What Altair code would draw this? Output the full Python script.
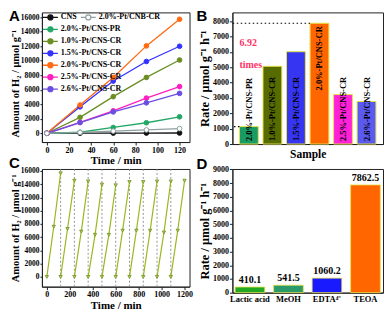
import altair as alt
import pandas as pd

SERIF = "Liberation Serif"
SANS = "Liberation Sans"

# ---------------- Panel A data ----------------
time_a = [0, 30, 60, 90, 120]
series_a = ["CNS", "2.0%-Pt/CNS-PR", "1.0%-Pt/CNS-CR", "1.5%-Pt/CNS-CR",
            "2.0%-Pt/CNS-CR", "2.5%-Pt/CNS-CR", "2.6%-Pt/CNS-CR"]
amount_cns = [0, 15, 25, 30, 35]
amount_pr = [0, 140, 800, 1450, 2270]
amount_10 = [0, 2200, 5050, 7700, 10100]
amount_15 = [0, 3650, 7200, 9900, 12000]
amount_20 = [0, 3900, 7700, 12050, 15725]
amount_25 = [0, 1500, 3100, 4850, 6440]
amount_26 = [0, 1480, 2950, 4200, 5500]
series_cnb = "2.0%-Pt/CNB-CR"
amount_cnb = [0, 120, 300, 460, 640]
colors_a = ["#111111", "#22a866", "#6b8e23", "#3333ff", "#ff6a13", "#ff1fbf", "#6a4fe0"]
color_cnb = "#8fa0a0"

# ---------------- Panel B data ----------------
samples_b = ["2.0%-Pt/CNS-PR", "1.0%-Pt/CNS-CR", "1.5%-Pt/CNS-CR",
             "2.0%-Pt/CNS-CR", "2.5%-Pt/CNS-CR", "2.6%-Pt/CNS-CR"]
rates_b = [1136, 5060, 6010, 7862.5, 3220, 2770]
colors_b = ["#1a9b63", "#566b00", "#3636f2", "#ff6600", "#ff22d8", "#5a5af0"]
ref_samples = ["2.0%-Pt/CNS-CR", "2.0%-Pt/CNS-PR"]
ref_levels = [7862.5, 1136]
note_text = ["6.92", "times"]
note_levels = [6550, 5150]

# ---------------- Panel C data ----------------
cycle_starts = [0, 120, 240, 360, 480, 600, 720, 840, 960, 1080]
cycle_mid = [7580, 7240, 6850, 6360, 6360, 6990, 6990, 6990, 6700, 6990]
cycle_peak = [15650, 14530, 14430, 13940, 13840, 14330, 14330, 14430, 14430, 14530]
cycle_len = 120
cycle_bounds = [120, 240, 360, 480, 600, 720, 840, 960, 1080]

# ---------------- Panel D data ----------------
donors = ["Lactic acid", "MeOH", "EDTA\u2074\u207b", "TEOA"]
rates_d = [410.1, 541.5, 1060.2, 7862.5]
colors_d = ["#22a822", "#2a9a6a", "#1a1aff", "#ff6600"]

# ---------------- tables ----------------
vals_a = [amount_cns, amount_pr, amount_10, amount_15, amount_20, amount_25, amount_26]
df_a = pd.DataFrame([{"s": s, "t": t, "v": v}
                     for s, arr in zip(series_a, vals_a) for t, v in zip(time_a, arr)])
df_cnb = pd.DataFrame({"s": [series_cnb] * len(time_a), "t": time_a, "v": amount_cnb})
df_b = pd.DataFrame({"cat": samples_b, "v": rates_b})
df_ref = pd.DataFrame({"cat": ref_samples, "v": ref_levels})
df_note = pd.DataFrame({"cat": [samples_b[0]] * 2, "v": note_levels, "txt": note_text})
rows_c = []
for i, (st, m, p) in enumerate(zip(cycle_starts, cycle_mid, cycle_peak)):
    rows_c += [{"c": i, "t": st, "v": 0}, {"c": i, "t": st + cycle_len / 2, "v": m},
               {"c": i, "t": st + cycle_len, "v": p}]
df_c = pd.DataFrame(rows_c)
df_cb = pd.DataFrame({"t": cycle_bounds})
df_d = pd.DataFrame({"cat": donors, "v": rates_d})

SYM_FULL = "M-1.5,0H1.5M0.5,0A0.5,0.5,0,1,1,-0.5,0A0.5,0.5,0,1,1,0.5,0"
SYM_OPEN = "M-1.5,0H-0.5M0.5,0H1.5M0.5,0A0.5,0.5,0,1,1,-0.5,0A0.5,0.5,0,1,1,0.5,0"
H2_TITLE = "Amount of H\u2082 / \u03bcmol g\u207b\u00b9"
RATE_TITLE = "Rate / \u03bcmol g\u207b\u00b9 h\u207b\u00b9"


def qaxis(title, values, tsize, **kw):
    return alt.Axis(title=title, values=values, titleFontSize=tsize, format="d",
                    labelOverlap=False, labelBound=False, labelFlush=False, **kw)


def letter(ch, dx, dy):
    return alt.Chart(pd.DataFrame({"l": [ch]})).mark_text(
        font=SANS, fontWeight="bold", fontSize=15, align="left", baseline="top", color="black"
    ).encode(x=alt.value(dx), y=alt.value(dy), text="l:N")


def leg(x, y, sym):
    return alt.Legend(title=None, orient="none", legendX=x, legendY=y, symbolType=sym,
                      symbolSize=100, symbolStrokeWidth=1.3, labelFont=SERIF, labelFontSize=8,
                      labelFontWeight="bold", labelColor="black", labelOffset=4.5,
                      rowPadding=0, padding=0)


# ---------------- Panel A ----------------
WA, HA = 148, 130
xA = alt.X("t:Q", scale=alt.Scale(domain=[-4.5, 129], nice=False, zero=False),
           axis=qaxis("Time / min", list(range(0, 121, 20)), 11))
yA = alt.Y("v:Q", scale=alt.Scale(domain=[-1210, 16670], nice=False, zero=False),
           axis=qaxis(H2_TITLE, list(range(0, 16001, 2000)), 10.5, titleY=HA / 2 + 6, labelFontSize=7.5,
                      tickSize=2, labelPadding=1, titlePadding=0))
sc_line = alt.Scale(domain=series_a[::-1], range=colors_a[::-1])
sc_stroke = alt.Scale(domain=series_a, range=colors_a)
sc_fill = alt.Scale(domain=series_a, range=colors_a)
legA = leg(2.5, -1, SYM_FULL)
lineA = alt.Chart(df_a).mark_line(strokeWidth=1.3).encode(
    x=xA, y=yA, color=alt.Color("s:N", scale=sc_line, legend=None))
ptA = alt.Chart(df_a).mark_point(filled=True, size=22, strokeWidth=1, opacity=1).encode(
    x=xA, y=yA,
    fill=alt.Fill("s:N", scale=sc_fill, legend=legA),
    stroke=alt.Stroke("s:N", scale=sc_stroke, legend=legA),
)
sc_stroke2 = alt.Scale(domain=[series_cnb], range=[color_cnb])
sc_fill2 = alt.Scale(domain=[series_cnb], range=["white"])
legC = leg(40.5, -1, SYM_OPEN)
lineB = alt.Chart(df_cnb).mark_line(strokeWidth=1.3, color=color_cnb).encode(x=xA, y=yA)
ptB = alt.Chart(df_cnb).mark_point(filled=True, size=22, strokeWidth=1, opacity=1).encode(
    x=xA, y=yA,
    fill=alt.Fill("s:N", scale=sc_fill2, legend=legC),
    stroke=alt.Stroke("s:N", scale=sc_stroke2, legend=legC),
)
panelA = alt.layer(alt.layer(lineA, ptA), alt.layer(lineB, ptB), letter("A", -33, -3)).resolve_scale(
    stroke="independent", fill="independent").properties(width=WA, height=HA)

# ---------------- Panel B ----------------
WB, HB = 151, 132
xB = alt.X("cat:N", sort=samples_b,
           scale=alt.Scale(domain=samples_b, paddingInner=0.2, paddingOuter=0.3),
           axis=alt.Axis(title="Sample", labels=False, ticks=False, titleFontSize=11.5, titlePadding=4))
xB0 = alt.X("cat:N", sort=samples_b, bandPosition=0,
            scale=alt.Scale(domain=samples_b, paddingInner=0.2, paddingOuter=0.3),
            axis=alt.Axis(title="Sample", labels=False, ticks=False, titleFontSize=11.5, titlePadding=4))
yB = alt.Y("v:Q", scale=alt.Scale(domain=[0, 8570], nice=False, zero=False),
           axis=qaxis(RATE_TITLE, list(range(0, 8001, 1000)), 12.5, labelFontSize=8,
                      tickSize=3, labelPadding=1, titlePadding=1))
bars_b = alt.Chart(df_b).mark_bar(stroke="#e6e04a", strokeWidth=1).encode(
    x=xB, y=yB,
    color=alt.Color("cat:N", scale=alt.Scale(domain=samples_b, range=colors_b), legend=None),
)
lbl_low = alt.Chart(df_b).transform_filter(alt.datum.cat != "2.0%-Pt/CNS-CR").transform_calculate(
    v="0").mark_text(
    angle=270, align="left", baseline="middle", dx=3, font=SERIF, fontWeight="bold", fontSize=8.5,
    color="black").encode(x=xB, y=yB, text="cat:N")
lbl_top = alt.Chart(df_b).transform_filter(alt.datum.cat == "2.0%-Pt/CNS-CR").mark_text(
    angle=270, align="right", baseline="middle", dx=-3, font=SERIF, fontWeight="bold", fontSize=8.5,
    color="black").encode(x=xB, y=yB, text="cat:N")
rules_b = alt.Chart(df_ref).mark_rule(strokeDash=[1.5, 2.5], color="black", strokeWidth=1.2).encode(
    x=xB0, x2=alt.value(0), y=yB)
note_b = alt.Chart(df_note).mark_text(align="left", baseline="middle", font=SERIF, fontWeight="bold",
                                      fontSize=10, color="#ff3366").encode(x=xB0, y=yB, text="txt:N")
panelB = alt.layer(bars_b, rules_b, lbl_low, lbl_top, note_b, letter("B", -36, -3)).properties(
    width=WB, height=HB)

# ---------------- Panel C ----------------
WC, HC = 148, 118
xC = alt.X("t:Q", scale=alt.Scale(domain=[-43, 1243], nice=False, zero=False),
           axis=qaxis("Time / min", list(range(0, 1201, 200)), 11))
yC = alt.Y("v:Q", scale=alt.Scale(domain=[-1470, 16300], nice=False, zero=False),
           axis=qaxis(H2_TITLE, list(range(0, 16001, 2000)), 10.5, labelFontSize=7.5,
                      tickSize=2, labelPadding=1, titlePadding=0))
vr_c = alt.Chart(df_cb).mark_rule(strokeDash=[2, 2], color="#888888", strokeWidth=0.9).encode(x=xC)
line_c = alt.Chart(df_c).mark_line(color="#9ab820", strokeWidth=1.2).encode(x=xC, y=yC, detail="c:N")
pt_c = alt.Chart(df_c).mark_point(shape="triangle-down", filled=True, size=11, fill="#c8d850",
                                  stroke="#6b8e23", strokeWidth=0.8, opacity=1).encode(x=xC, y=yC)
panelC = alt.layer(vr_c, line_c, pt_c, letter("C", -33, -13)).properties(width=WC, height=HC)

# ---------------- Panel D ----------------
WD, HD = 151, 124
xD = alt.X("cat:N", sort=donors, scale=alt.Scale(domain=donors, paddingInner=0.23, paddingOuter=0.07),
           axis=alt.Axis(title=None, labelAngle=0, ticks=False, labelFontSize=8.5, labelPadding=2))
yD = alt.Y("v:Q", scale=alt.Scale(domain=[0, 9030], nice=False, zero=False),
           axis=qaxis(RATE_TITLE, list(range(0, 9001, 1000)), 12.5, labelFontSize=8,
                      tickSize=3, labelPadding=1, titlePadding=1))
bars_d = alt.Chart(df_d).mark_bar(stroke="#e6e04a", strokeWidth=0.8).encode(
    x=xD, y=yD, color=alt.Color("cat:N", scale=alt.Scale(domain=donors, range=colors_d), legend=None))
val_d = alt.Chart(df_d).mark_text(baseline="bottom", dy=-2, font=SERIF, fontWeight="bold",
                                  fontSize=10, color="black").encode(
    x=xD, y=yD, text=alt.Text("v:Q", format=".1f"))
panelD = alt.layer(bars_d, val_d, letter("D", -36, -12)).properties(width=WD, height=HD)

chart = alt.concat(panelA, panelB, panelC, panelD, columns=2,
                   spacing={"row": 25, "column": 43}, bounds="flush").resolve_scale(
    color="independent", fill="independent", stroke="independent"
).properties(
    padding=0
).configure_axis(
    labelFont=SERIF, labelFontWeight="bold", labelFontSize=8, labelColor="black",
    titleFont=SERIF, titleFontWeight="bold", titleColor="black",
    tickColor="#222222", domainColor="#222222", tickSize=3, labelPadding=1, titlePadding=1,
    grid=False, labelOverlap=False,
).configure_axisY(labelOverlap=False, labelBound=False).configure_axisX(
    labelOverlap=False, labelBound=False
).configure_axisQuantitative(labelOverlap=False, labelBound=False).configure_axisLeft(
    labelOverlap=False, labelBound=False
).configure_view(stroke="#222222", strokeWidth=1)

chart.save("out.html", embed_options={"renderer": "svg", "actions": False})
